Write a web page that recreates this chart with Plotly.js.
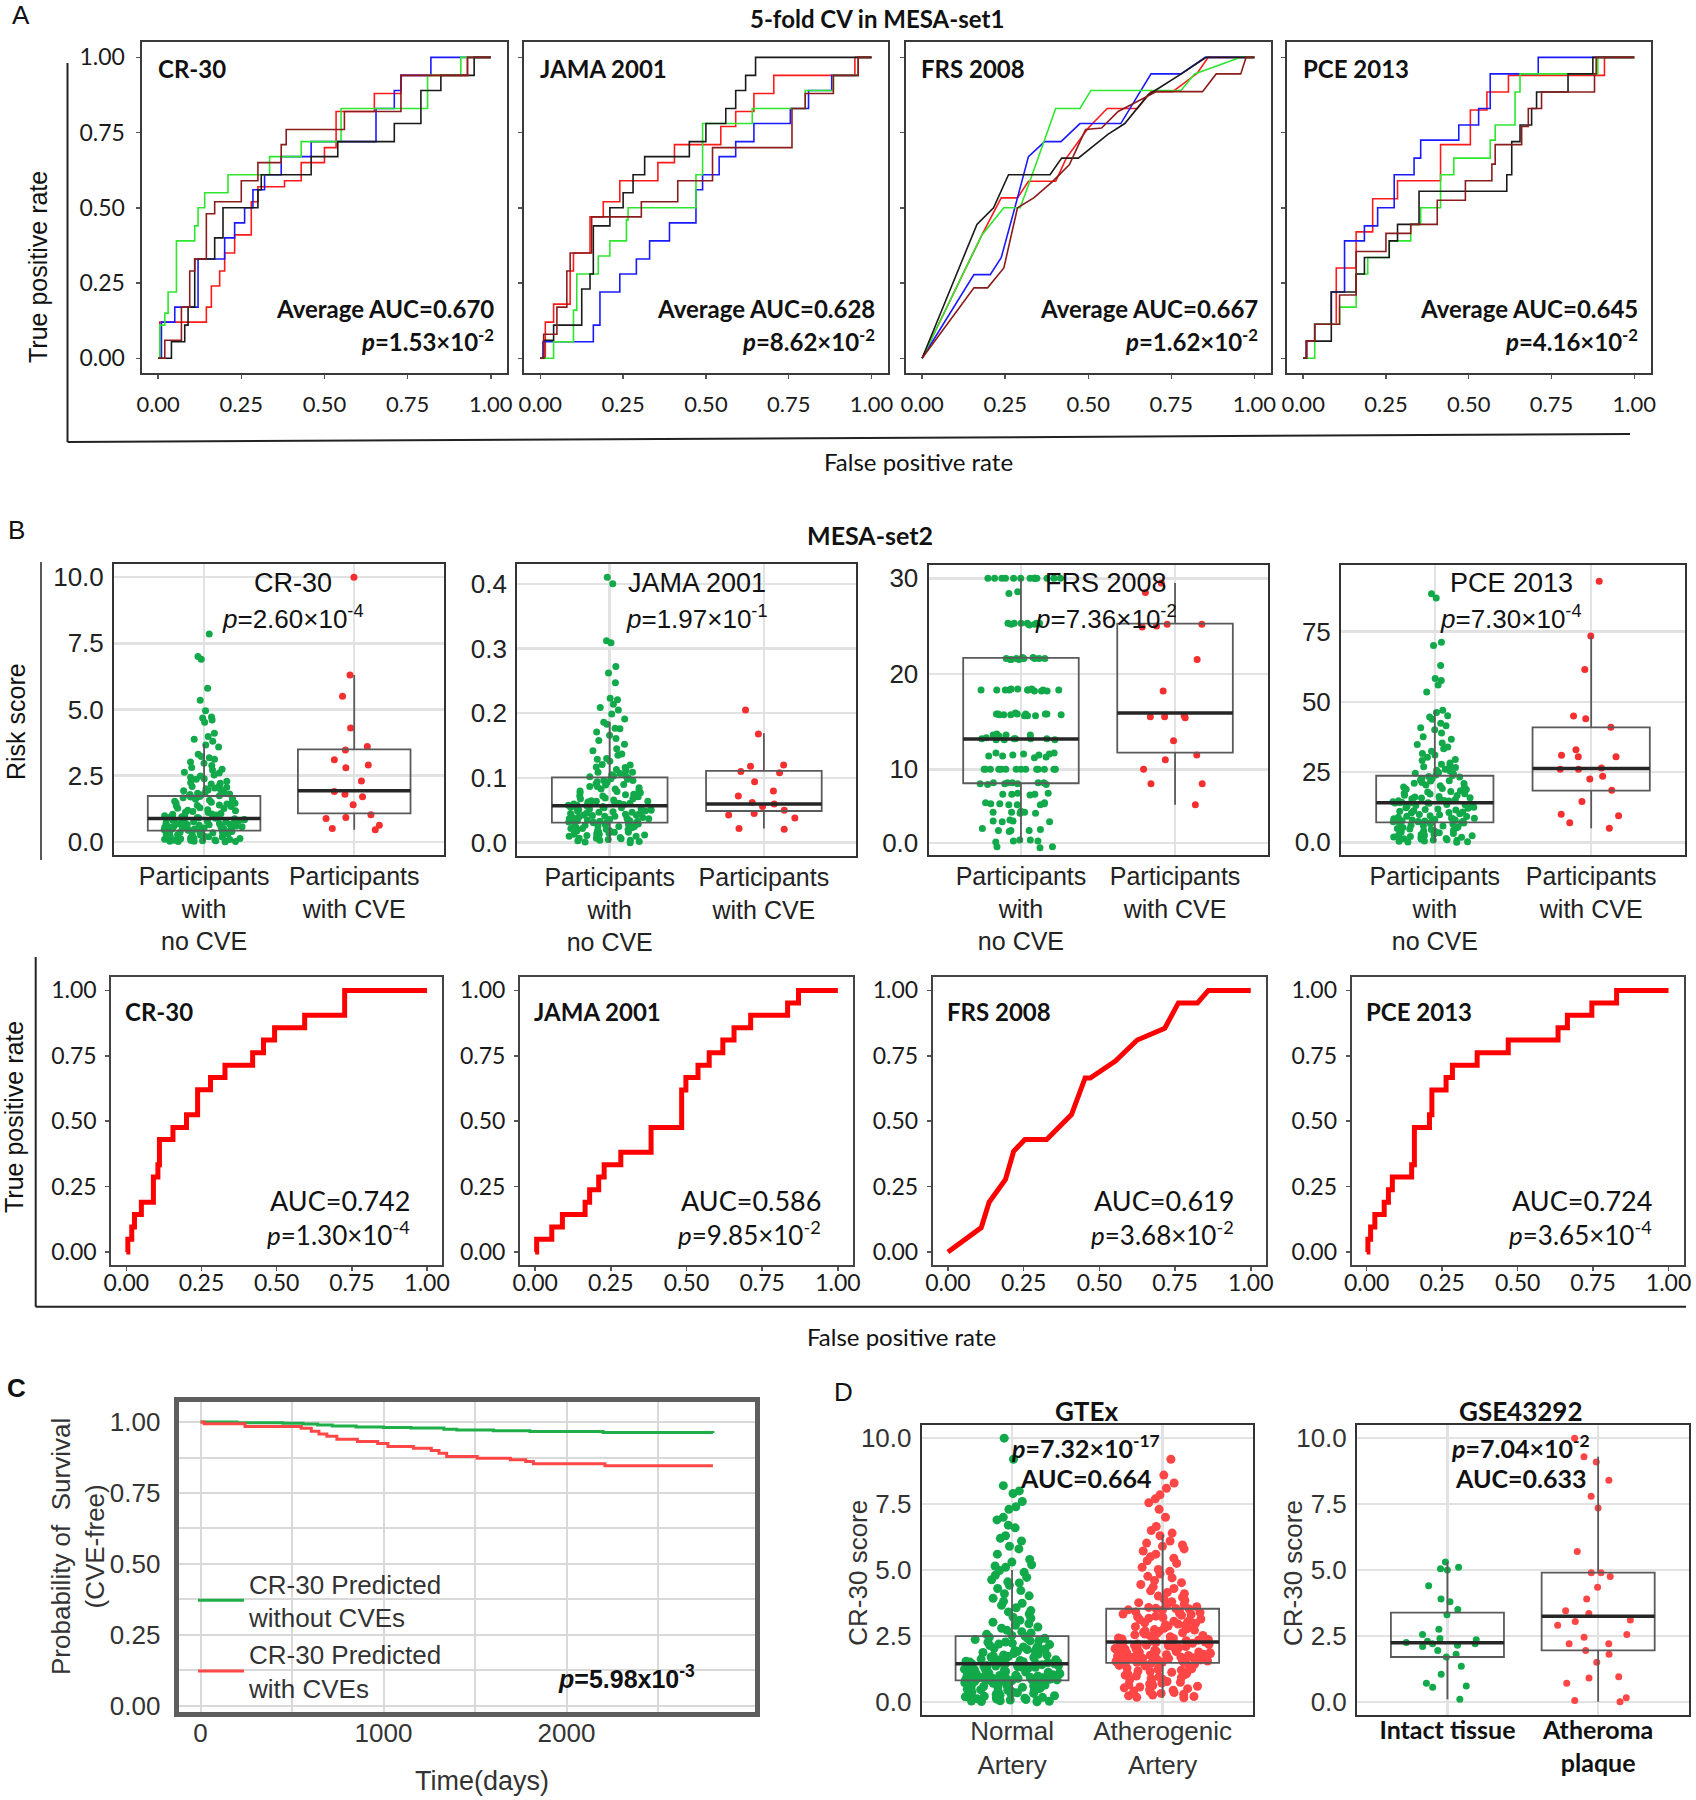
<!DOCTYPE html>
<html><head><meta charset="utf-8">
<script src="https://cdn.plot.ly/plotly-3.0.1.min.js"></script>
<style>body{margin:0;background:#fff}#chart{width:1696px;height:1800px}</style>
</head><body><div id="chart"></div>
<script>
// ================= DATA =================
const models = ['CR-30', 'JAMA 2001', 'FRS 2008', 'PCE 2013'];
// Panel A: 5-fold CV in MESA-set1
const cvAUC = ['0.670', '0.628', '0.667', '0.645'];
const cvPMant = ['1.53', '8.62', '1.62', '4.16'];
const cvPExp = ['-2', '-2', '-2', '-2'];
// ROC folds, [fpr, tpr]
const cr30Red = [[0,0],[0.005,0.12],[0.145,0.17],[0.16,0.24],[0.185,0.29],[0.2,0.35],[0.23,0.41],[0.28,0.52],[0.3,0.57],[0.38,0.59],[0.43,0.65],[0.5,0.7],[0.535,0.82],[0.65,0.88],[0.73,0.94],[0.93,1],[1,1]];
const cr30Blue = [[0,0],[0.01,0.12],[0.05,0.17],[0.12,0.33],[0.2,0.4],[0.23,0.45],[0.26,0.5],[0.285,0.56],[0.32,0.61],[0.37,0.67],[0.46,0.72],[0.655,0.83],[0.71,0.89],[0.73,0.94],[0.82,1],[1,1]];
const cr30Green = [[0,0],[0.005,0.11],[0.02,0.15],[0.03,0.22],[0.055,0.39],[0.11,0.44],[0.12,0.5],[0.14,0.55],[0.21,0.61],[0.335,0.67],[0.43,0.72],[0.55,0.83],[0.81,0.94],[0.91,1],[1,1]];
const cr30Black = [[0,0],[0.01,0],[0.04,0.055],[0.08,0.11],[0.09,0.17],[0.11,0.33],[0.17,0.4],[0.195,0.5],[0.3,0.56],[0.31,0.61],[0.46,0.67],[0.54,0.72],[0.71,0.78],[0.79,0.89],[0.85,0.94],[0.95,1],[1,1]];
const cr30DarkRed = [[0,0],[0.02,0.06],[0.07,0.17],[0.095,0.29],[0.11,0.33],[0.145,0.48],[0.17,0.52],[0.25,0.59],[0.3,0.65],[0.37,0.71],[0.385,0.76],[0.56,0.82],[0.73,0.94],[0.93,1],[1,1]];
const jamaRed = [[0,0],[0.015,0.12],[0.04,0.18],[0.09,0.29],[0.1,0.35],[0.15,0.47],[0.19,0.52],[0.24,0.59],[0.355,0.65],[0.405,0.71],[0.545,0.77],[0.59,0.82],[0.645,0.88],[0.705,0.94],[0.95,1],[1,1]];
const jamaBlue = [[0,0],[0.008,0.055],[0.16,0.11],[0.18,0.22],[0.24,0.28],[0.29,0.33],[0.33,0.39],[0.39,0.45],[0.47,0.56],[0.49,0.61],[0.54,0.67],[0.59,0.72],[0.645,0.78],[0.755,0.83],[0.81,0.89],[0.88,0.94],[0.96,1],[1,1]];
const jamaGreen = [[0,0],[0.02,0],[0.04,0.055],[0.1,0.16],[0.11,0.28],[0.175,0.34],[0.21,0.39],[0.26,0.46],[0.265,0.5],[0.47,0.61],[0.49,0.78],[0.64,0.83],[0.8,0.89],[0.885,0.94],[0.96,1],[1,1]];
const jamaBlack = [[0,0],[0.01,0.06],[0.04,0.11],[0.125,0.23],[0.15,0.28],[0.16,0.44],[0.21,0.5],[0.25,0.55],[0.28,0.61],[0.315,0.67],[0.45,0.72],[0.5,0.78],[0.56,0.83],[0.59,0.89],[0.62,0.94],[0.65,1],[1,1]];
const jamaDarkRed = [[0,0],[0.01,0.08],[0.05,0.17],[0.08,0.29],[0.09,0.35],[0.155,0.47],[0.305,0.52],[0.415,0.59],[0.52,0.7],[0.76,0.83],[0.8,0.88],[0.885,0.94],[0.96,1],[1,1]];
const frsRed = [[0,0],[0.18,0.41],[0.238,0.533],[0.287,0.533],[0.32,0.588],[0.402,0.588],[0.434,0.665],[0.5,0.765],[0.557,0.83],[0.648,0.83],[0.689,0.886],[0.754,0.886],[0.828,0.947],[0.861,1],[1,1]];
const frsBlue = [[0,0],[0.156,0.278],[0.205,0.278],[0.238,0.334],[0.279,0.5],[0.32,0.67],[0.369,0.72],[0.418,0.72],[0.475,0.78],[0.598,0.78],[0.689,0.945],[0.779,0.945],[0.852,1],[1,1]];
const frsGreen = [[0,0],[0.18,0.41],[0.246,0.5],[0.295,0.5],[0.328,0.6],[0.402,0.83],[0.475,0.83],[0.508,0.89],[0.779,0.89],[0.82,0.945],[0.959,1],[1,1]];
const frsBlack = [[0,0],[0.165,0.445],[0.215,0.5],[0.26,0.61],[0.385,0.61],[0.42,0.665],[0.47,0.665],[0.56,0.745],[0.61,0.78],[0.68,0.875],[0.78,0.945],[0.855,1],[1,1]];
const frsDarkRed = [[0,0],[0.156,0.234],[0.197,0.234],[0.246,0.3],[0.287,0.5],[0.336,0.533],[0.393,0.588],[0.443,0.643],[0.492,0.76],[0.54,0.765],[0.59,0.82],[0.705,0.886],[0.844,0.886],[0.885,0.945],[0.959,0.945],[0.975,1],[1,1]];
const pceRed = [[0,0],[0.01,0.057],[0.035,0.113],[0.1,0.3],[0.16,0.42],[0.21,0.53],[0.285,0.59],[0.415,0.71],[0.505,0.825],[0.555,0.885],[0.62,0.94],[0.91,1],[1,1]];
const pceBlue = [[0,0],[0.01,0.057],[0.035,0.113],[0.085,0.22],[0.125,0.39],[0.185,0.44],[0.225,0.5],[0.275,0.61],[0.335,0.665],[0.355,0.725],[0.47,0.775],[0.53,0.83],[0.565,0.945],[0.71,1],[1,1]];
const pceGreen = [[0,0],[0.02,0],[0.035,0.113],[0.11,0.17],[0.16,0.28],[0.195,0.335],[0.26,0.39],[0.325,0.445],[0.355,0.5],[0.415,0.61],[0.455,0.665],[0.565,0.725],[0.58,0.775],[0.64,0.885],[0.655,0.945],[0.89,1],[1,1]];
const pceBlack = [[0,0],[0.01,0.057],[0.085,0.22],[0.16,0.28],[0.185,0.335],[0.26,0.39],[0.285,0.445],[0.35,0.555],[0.615,0.61],[0.63,0.72],[0.655,0.775],[0.69,0.83],[0.705,0.885],[0.8,0.945],[0.875,1],[1,1]];
const pceDarkRed = [[0,0],[0.01,0.057],[0.035,0.113],[0.11,0.21],[0.16,0.355],[0.25,0.415],[0.325,0.445],[0.405,0.525],[0.49,0.59],[0.57,0.645],[0.58,0.71],[0.66,0.77],[0.68,0.83],[0.72,0.885],[0.88,0.945],[0.885,1],[1,1]];

// Panel B: MESA-set2 risk scores
const groupLabels = ['Participants<br>with<br>no CVE', 'Participants<br>with CVE'];
const set2BoxPMant = ['2.60', '1.97', '7.36', '7.30'];
const set2BoxPExp = ['-4', '-1', '-2', '-4'];
// box stats: [lower whisker, q1, median, q3, upper whisker]
const cr30BoxNo = [0, 0.42, 0.88, 1.73, 3.7];
const cr30BoxCVE = [0.45, 1.07, 1.93, 3.49, 6.3];
const jamaBoxNo = [0, 0.031, 0.057, 0.101, 0.187];
const jamaBoxCVE = [0.022, 0.049, 0.06, 0.111, 0.169];
const frsBoxNo = [2.4, 8.54, 13.17, 21.67, 30];
const frsBoxCVE = [6.3, 11.74, 15.9, 25.26, 29.5];
const pceBoxNo = [0, 7.1, 14.1, 23.7, 47];
const pceBoxCVE = [5, 18.4, 26.3, 40.9, 73.5];

const cr30NoCVE = [7.85,7.0,6.9,5.8,5.35,4.95,4.72,4.68,4.6,4.52,4.1,3.98,3.88,3.8,
3.66,3.58,3.31,3.22,3.18,3.12,3.02,2.97,2.88,2.81,2.74,2.71,2.63,2.6,2.52,2.49,
2.44,2.38,2.36,2.29,2.24,2.21,2.18,2.12,2.09,2.06,2.03,2.0,1.97,
1.96,1.93,1.9,1.87,1.86,1.83,1.81,1.79,1.77,1.75,1.74,
1.71,1.69,1.66,1.63,1.61,1.57,1.56,1.53,1.49,1.47,1.46,1.43,1.39,1.37,1.36,1.33,1.29,1.27,1.26,1.21,1.19,1.17,1.14,1.12,1.11,1.07,1.05,1.04,1.01,0.99,0.98,0.96,0.95,0.93,0.92,0.91,0.9,0.89,
0.87,0.86,0.84,0.83,0.83,0.81,0.79,0.78,0.76,0.75,0.74,0.71,0.7,0.69,0.68,0.66,0.65,0.64,0.62,0.61,0.6,0.58,0.57,0.57,0.55,0.54,0.52,0.51,0.5,0.49,0.48,0.47,0.46,0.45,0.44,0.43,0.42,
0.41,0.39,0.38,0.38,0.36,0.35,0.34,0.32,0.31,0.3,0.29,0.27,0.26,0.25,0.24,0.22,0.21,0.2,0.19,0.18,0.16,0.15,0.14,0.13,0.12,0.11,0.1,0.09,0.08,0.07,0.06,0.05,0.04,0.04,0.03,0.02,0.02,0.01,0.01,0.0];
const cr30CVE = [10.0,6.3,5.5,4.3,3.6,3.47,3.1,2.9,2.8,2.3,1.9,1.8,1.7,1.4,1.02,0.92,0.88,0.62,0.5,0.45];
const jamaNoCVE = [0.41,0.40,0.312,0.309,0.272,0.262,0.247,0.223,0.221,0.214,0.209,0.205,0.199,0.191,
0.186,0.183,0.177,0.176,0.171,0.166,0.161,0.158,0.152,0.145,0.142,0.137,0.135,0.13,0.129,0.126,0.121,0.12,0.117,0.116,0.113,0.112,0.109,0.109,0.107,0.105,0.104,0.103,0.102,
0.1,0.099,0.098,0.096,0.096,0.094,0.093,0.091,0.09,0.089,0.087,0.087,0.085,0.083,0.083,0.081,0.08,0.079,0.077,0.077,0.075,0.074,0.072,0.072,0.071,0.069,0.068,0.068,0.066,0.065,0.064,0.064,0.063,0.062,0.061,0.061,0.06,0.059,0.059,0.058,0.058,0.057,
0.056,0.056,0.055,0.054,0.054,0.053,0.052,0.052,0.051,0.05,0.049,0.049,0.048,0.047,0.047,0.046,0.045,0.045,0.044,0.043,0.043,0.042,0.041,0.041,0.04,0.039,0.039,0.038,0.037,0.037,0.036,0.036,0.035,0.034,0.034,0.033,0.033,0.032,0.032,0.031,0.031,
0.03,0.03,0.029,0.028,0.028,0.027,0.026,0.025,0.025,0.024,0.023,0.022,0.022,0.021,0.02,0.019,0.019,0.018,0.017,0.016,0.016,0.015,0.014,0.013,0.013,0.012,0.011,0.01,0.01,0.009,0.008,0.007,0.007,0.006,0.005,0.004,0.004,0.003,0.002,0.001,0.0];
const jamaCVE = [0.205,0.168,0.12,0.118,0.11,0.108,0.094,0.08,0.072,0.062,0.06,0.056,0.05,0.045,0.043,0.038,0.022,0.021];
const frsNoCVE = [30,30,30,30,30,30,30,30,30,30,30,30,30,30,28.6,28.4,
25.3,25.3,25.2,25.3,25.1,25.3,25.2,25.3,25.2,25.3,
21.6,21.6,21.5,21.6,21.7,21.6,21.5,21.6,21.6,21.7,21.6,21.5,
18.3,18.4,18.3,18.2,18.3,18.4,18.3,18.3,18.2,18.3,18.4,18.3,18.3,18.2,
15.8,15.7,15.8,15.6,15.8,15.7,15.9,15.8,15.7,15.6,15.8,15.7,15.8,15.6,
13.6,13.7,13.5,13.6,13.6,
13.2,13.1,13.2,13.3,13.2,13.1,13.2,13.2,13.3,13.1,
11.7,11.5,11.6,11.2,11.4,11.7,11.5,11.3,11.6,11.4,
10,10,10,10,10,10,10,10,10,10,10,10,10,10,
8.6,8.5,8.6,8.4,8.6,8.5,8.6,8.4,8.5,8.6,
7.4,7.5,7.3,7.4,7.5,7.4,
6.4,6.3,6.5,6.4,6.3,6.4,6.5,6.3,
5.5,5.4,5.6,5.5,5.4,5.5,
4.6,4.5,4.7,4.6,4.5,
3.6,3.7,3.5,3.6,3.8,3.6,
2.6,2.5,2.4,2.5,2.6,
1.9,1.8,1.9];
const frsCVE = [29.5,28.5,25.2,25.2,25.0,24.9,21.5,18.2,15.6,15.5,15.5,15.4,13.0,11.5,11.0,10.0,8.5,8.5,6.3];
const pceNoCVE = [88.5,87,71.2,70.1,63,58.3,57.6,56,53.5,
47,46.2,45.1,44.6,43.8,42.4,41.5,40.8,40.1,38.9,37.6,36.7,35.4,34.8,33.9,33.3,32.4,31.6,31.1,30.3,29.5,29.1,28.2,27.8,27.5,26.9,26.6,26.0,25.7,25.4,24.9,24.6,24.3,24.0,23.8,
23.4,23.3,22.8,22.7,22.2,21.9,21.8,21.3,21.0,20.9,20.4,20.1,19.8,19.7,19.2,18.9,18.8,18.4,18.1,17.9,17.5,17.3,17.2,16.8,16.7,16.3,16.1,15.9,15.8,15.5,15.3,15.2,14.9,14.8,14.7,14.5,14.4,14.3,14.2,14.2,14.1,
14.0,13.9,13.5,13.4,13.1,12.9,12.8,12.5,12.3,12.1,11.9,11.7,11.5,11.2,11.1,10.8,10.6,10.5,10.2,9.9,9.8,9.5,9.3,9.2,8.9,8.7,8.6,8.4,8.3,8.1,7.9,7.9,7.7,7.6,7.5,7.4,7.3,7.3,7.2,7.1,
7.0,6.9,6.6,6.5,6.1,5.9,5.8,5.5,5.3,5.2,4.9,4.7,4.6,4.3,4.1,4.0,3.7,3.5,3.4,3.1,2.9,2.8,2.6,2.4,2.3,2.1,1.9,1.8,1.6,1.4,1.3,1.1,0.9,0.8,0.7,0.5,0.4,0.2,0.1,0.0];
const pceCVE = [93,73.5,61.5,45,44,41,33,31,30.5,30.5,26.5,26,26,23.5,22.5,18.5,14.5,10,9.5,7,5];

// Panel B (bottom): ROC in MESA-set2
const set2RocAUC = ['0.742', '0.586', '0.619', '0.724'];
const set2RocPMant = ['1.30', '9.85', '3.68', '3.65'];
const set2RocPExp = ['-4', '-2', '-2', '-4'];
const cr30Set2 = [[0,0],[0.005,0.048],[0.018,0.095],[0.027,0.143],[0.05,0.19],[0.09,0.286],[0.105,0.333],[0.11,0.43],[0.155,0.476],[0.2,0.524],[0.237,0.62],[0.28,0.667],[0.328,0.714],[0.42,0.762],[0.456,0.81],[0.493,0.857],[0.593,0.905],[0.726,1],[1,1]];
const jamaSet2 = [[0,0],[0.005,0.048],[0.055,0.095],[0.09,0.143],[0.165,0.19],[0.18,0.238],[0.21,0.286],[0.228,0.333],[0.283,0.381],[0.383,0.476],[0.484,0.619],[0.498,0.667],[0.538,0.714],[0.575,0.762],[0.62,0.81],[0.657,0.857],[0.712,0.905],[0.834,0.952],[0.87,1],[1,1]];
const frsSet2 = [[0,0],[0.11,0.093],[0.136,0.19],[0.19,0.277],[0.217,0.385],[0.254,0.43],[0.326,0.43],[0.408,0.525],[0.453,0.665],[0.47,0.665],[0.553,0.73],[0.625,0.81],[0.716,0.855],[0.761,0.952],[0.824,0.952],[0.86,1],[1,1]];
const pceSet2 = [[0,0],[0.004,0.048],[0.013,0.095],[0.027,0.143],[0.058,0.19],[0.072,0.238],[0.085,0.286],[0.149,0.333],[0.158,0.476],[0.208,0.524],[0.216,0.619],[0.263,0.667],[0.284,0.714],[0.366,0.762],[0.469,0.81],[0.634,0.857],[0.665,0.905],[0.746,0.952],[0.828,1],[1,1]];

// Panel C: Kaplan-Meier
const survDaysNoCVE = [0,200,450,560,640,720,850,1000,1150,1330,1400,1600,1800,2200,2800];
const survProbNoCVE = [1.0,0.998,0.996,0.993,0.99,0.986,0.983,0.981,0.979,0.975,0.972,0.970,0.967,0.963,0.962];
const survDaysCVE = [0,20,243,550,605,647,690,745,857,968,1024,1163,1261,1303,1345,1512,1693,1777,1819,2210,2800];
const survProbCVE = [1.0,0.994,0.985,0.978,0.968,0.958,0.95,0.94,0.932,0.925,0.914,0.908,0.9,0.89,0.879,0.873,0.867,0.861,0.853,0.846,0.846];
const survNames = ['CR-30 Predicted<br>without CVEs', 'CR-30 Predicted<br>with CVEs'];
const survP = ['5.98', '-3'];

// Panel D
const gtexLabels = ['Normal<br>Artery', 'Atherogenic<br>Artery'];
const gseLabels = ['Intact tissue', 'Atheroma<br>plaque'];
const gtexBoxNormal = [0, 0.81, 1.44, 2.49, 5.0];
const gtexBoxAthero = [0.15, 1.48, 2.27, 3.53, 6.35];
const gseBoxIntact = [0.1, 1.70, 2.24, 3.38, 5.3];
const gseBoxAtheroma = [0, 1.95, 3.25, 4.9, 9.3];
const gtexNormal = [10.0,9.2,8.2,8.0,7.9,7.6,7.4,7.3,7.0,6.9,6.7,6.6,6.3,6.2,6.1,5.9,5.8,5.6,5.4,5.3,5.2,5.15,5.1,
4.98,4.91,4.8,4.72,4.63,4.55,4.51,4.42,4.3,4.22,4.1,4.02,3.93,3.81,3.74,3.66,3.57,3.46,3.41,3.33,3.21,3.17,3.09,3.02,2.96,2.9,2.84,2.79,2.71,2.66,2.61,2.56,2.52,
2.48,2.45,2.41,2.4,2.36,2.33,2.31,2.27,2.26,2.22,2.19,2.17,2.13,2.12,2.08,2.04,2.03,1.99,1.98,1.95,1.92,1.91,1.87,1.85,1.83,1.8,1.78,1.77,1.74,1.72,1.7,1.68,1.66,1.64,1.62,1.6,1.59,1.57,1.55,1.54,1.52,1.51,1.49,1.48,1.47,1.46,1.45,1.44,1.44,
1.43,1.41,1.4,1.38,1.37,1.36,1.34,1.33,1.31,1.3,1.28,1.27,1.25,1.24,1.22,1.21,1.19,1.18,1.16,1.15,1.13,1.12,1.1,1.09,1.07,1.06,1.04,1.03,1.01,1.0,0.98,0.97,0.96,0.94,0.93,0.92,0.91,0.9,0.89,0.88,0.87,0.86,0.85,0.84,0.83,0.83,0.82,0.81,0.81,
0.8,0.78,0.77,0.75,0.74,0.72,0.7,0.69,0.67,0.65,0.64,0.62,0.6,0.58,0.57,0.55,0.53,0.51,0.5,0.48,0.46,0.44,0.43,0.41,0.39,0.37,0.35,0.34,0.32,0.3,0.28,0.26,0.25,0.23,0.21,0.19,0.17,0.16,0.14,0.12,0.1,0.09,0.07,0.05,0.04,0.03,0.02,0.01,0.0];
const gtexAthero = [9.2,8.6,8.3,8.1,7.85,7.7,7.55,7.3,7.0,6.65,6.5,6.4,
6.3,6.1,6.02,5.95,5.9,5.8,5.72,5.6,5.5,5.45,5.35,5.25,5.1,5.02,4.95,4.85,4.76,4.7,4.6,4.52,4.45,4.36,4.3,4.21,4.15,4.1,4.01,3.96,3.9,3.85,3.8,3.76,3.7,3.65,3.61,3.58,3.55,3.54,
3.52,3.49,3.47,3.44,3.41,3.39,3.36,3.33,3.31,3.28,3.25,3.22,3.2,3.17,3.14,3.12,3.09,3.06,3.03,3.0,2.98,2.95,2.92,2.9,2.87,2.85,2.82,2.79,2.77,2.74,2.72,2.69,2.67,2.64,2.62,2.59,2.57,2.54,2.52,2.5,2.47,2.45,2.42,2.4,2.38,2.36,2.34,2.32,2.3,2.28,2.27,
2.26,2.24,2.22,2.21,2.19,2.17,2.15,2.14,2.12,2.1,2.09,2.07,2.05,2.04,2.02,2.0,1.99,1.97,1.96,1.94,1.92,1.91,1.89,1.88,1.86,1.85,1.83,1.82,1.8,1.79,1.77,1.76,1.74,1.73,1.71,1.7,1.68,1.67,1.65,1.64,1.62,1.61,1.59,1.58,1.56,1.55,1.53,1.52,1.51,1.5,1.49,1.48,
1.46,1.43,1.41,1.38,1.36,1.33,1.31,1.28,1.25,1.23,1.2,1.17,1.15,1.12,1.09,1.06,1.04,1.01,0.98,0.95,0.92,0.89,0.86,0.83,0.8,0.77,0.74,0.71,0.68,0.65,0.62,0.59,0.56,0.53,0.5,0.47,0.44,0.41,0.38,0.35,0.32,0.29,0.26,0.23,0.2,0.17,0.15];
const gseIntact = [5.3,5.05,5.0,5.1,4.4,3.8,3.9,3.5,3.3,2.75,2.55,2.4,2.35,2.3,2.25,2.2,2.15,2.1,2.2,1.95,1.8,1.7,1.35,1.05,0.7,0.55,0.6,0.1];
const gseAtheroma = [10.0,9.3,9.1,8.4,7.8,7.35,5.7,4.9,4.9,4.75,4.35,3.9,3.45,3.35,3.1,3.05,2.9,2.55,2.45,2.2,2.2,1.95,1.8,1.5,0.9,0.95,0.7,0.15,0.05,0.0];
const gtexStats = ['7.32', '-17', '0.664'];
const gseStats = ['7.04', '-2', '0.633'];

// ================= LAYOUT HELPERS =================
const W = 1696, H = 1800;
const fx = p => p / W, fy = p => 1 - p / H;
const SANS = 'Liberation Sans, Arial, sans-serif';
const CAL = 'Lato, Carlito, sans-serif';
const layout = {
  width: W, height: H, margin: {l:0, r:0, t:0, b:0},
  paper_bgcolor: '#fff', plot_bgcolor: '#fff', boxmode: 'overlay',
  font: {family: SANS, color: '#222'},
  annotations: [], shapes: [], showlegend: true,
  legend: {x: fx(193), y: fy(1560), xanchor: 'left', yanchor: 'top', bgcolor: 'rgba(0,0,0,0)',
    font: {family: SANS, size: 26, color: '#333'}, itemwidth: 46, tracegroupgap: 4, valign: 'middle', traceorder: 'normal'}
};
const data = [];
let axN = 0;
function addAxes(b, xo, yo) {
  axN++;
  const s = axN === 1 ? '' : String(axN);
  layout['xaxis' + s] = Object.assign({domain: [fx(b[0]), fx(b[1])], anchor: 'y' + s}, xo);
  layout['yaxis' + s] = Object.assign({domain: [fy(b[3]), fy(b[2])], anchor: 'x' + s}, yo);
  return {x: 'x' + s, y: 'y' + s};
}
function ann(text, x, y, o) {
  const a = Object.assign({text: text, x: fx(x), y: fy(y), xref: 'paper', yref: 'paper', showarrow: false,
    xanchor: 'center', yanchor: 'middle', font: {family: CAL, size: 24, color: '#111'}}, o || {});
  layout.annotations.push(a);
}
function line(x0, y0, x1, y1, w) {
  layout.shapes.push({type: 'line', xref: 'paper', yref: 'paper', x0: fx(x0), y0: fy(y0), x1: fx(x1), y1: fy(y1), line: {color: '#222', width: w || 2}});
}
const pTxt = (m, e) => '<i>p</i>=' + m + '×10<sup>' + e + '</sup>';

// ================= PANEL A =================
const boxesA = [[141.5,507.4,42.3,373.3],[523.8,888,42.3,373.3],[905.5,1271,42.3,373.3],[1286.6,1650.8,42.3,373.3]];
const foldsA = [[cr30Red,cr30Blue,cr30Green,cr30Black,cr30DarkRed],[jamaRed,jamaBlue,jamaGreen,jamaBlack,jamaDarkRed],
  [frsRed,frsBlue,frsGreen,frsBlack,frsDarkRed],[pceRed,pceBlue,pceGreen,pceBlack,pceDarkRed]];
const foldColors = ['#ff1a1a', '#1a1aff', '#2ee62e', '#1a1a1a', '#8b1c1c'];
boxesA.forEach((b, i) => {
  const common = {range: [-0.05, 1.05], tickvals: [0, 0.25, 0.5, 0.75, 1], tickformat: '.2f', ticks: 'outside', ticklen: 4,
    tickwidth: 1.5, tickcolor: '#555', showline: true, mirror: true, linecolor: '#3a3a3a', linewidth: 2, showgrid: false,
    zeroline: false, tickfont: {family: CAL, size: 22, color: '#1a1a1a'}};
  const ax = addAxes(b, Object.assign({}, common, {ticklabelstandoff: 6}),
    Object.assign({}, common, {showticklabels: i === 0, ticklabelstandoff: 6, tickfont: {family: CAL, size: 23, color: '#1a1a1a'}}));
  foldsA[i].forEach((f, k) => {
    data.push({type: 'scatter', mode: 'lines', x: f.map(p => p[0]), y: f.map(p => p[1]), xaxis: ax.x, yaxis: ax.y,
      line: {color: foldColors[k], width: 1.6, shape: i === 2 ? 'linear' : 'hv'}, showlegend: false, hoverinfo: 'skip'});
  });
  ann('<b>' + models[i] + '</b>', b[0] + 14, 68, {xanchor: 'left'});
  ann('<b>Average AUC=' + cvAUC[i] + '</b>', b[1] - 11, 308, {xanchor: 'right'});
  ann('<b>' + pTxt(cvPMant[i], cvPExp[i]) + '</b>', b[1] - 11, 340, {xanchor: 'right'});
});
ann('A', 21, 15, {font: {family: SANS, size: 26, color: '#111'}});
ann('<b>5-fold CV in MESA-set1</b>', 877, 19, {font: {family: CAL, size: 24, color: '#111'}});
ann('True positive rate', 38, 267, {textangle: -90, font: {family: SANS, size: 25, color: '#111'}});
ann('False positive rate', 918, 461, {font: {family: CAL, size: 24, color: '#111'}});
line(67.5, 63, 67.5, 442);
line(67.5, 442, 1630, 434);

// ================= PANEL B (box plots) =================
const boxesB = [[114,444.3,564,855],[517.2,856.4,564,856],[928.5,1267.5,565,855],[1341,1685,565,855]];
const yB = [
  {range: [-0.5, 10.5], tickvals: [0, 2.5, 5, 7.5, 10], ticktext: ['0.0', '2.5', '5.0', '7.5', '10.0']},
  {range: [-0.0205, 0.4305], tickvals: [0, 0.1, 0.2, 0.3, 0.4], ticktext: ['0.0', '0.1', '0.2', '0.3', '0.4']},
  // the "0.0" label sits where the reference prints it on this axis
  {range: [1.03, 31.39], tickvals: [2.31, 10, 20, 30], ticktext: ['0.0', '10', '20', '30']},
  {range: [-4.52, 98.75], tickvals: [0, 25, 50, 75], ticktext: ['0.0', '25', '50', '75']}
];
const ptsB = [[cr30NoCVE, cr30CVE], [jamaNoCVE, jamaCVE], [frsNoCVE, frsCVE], [pceNoCVE, pceCVE]];
const statsB = [[cr30BoxNo, cr30BoxCVE], [jamaBoxNo, jamaBoxCVE], [frsBoxNo, frsBoxCVE], [pceBoxNo, pceBoxCVE]];
const GREEN = '#12a94a', RED = '#f52f2f';
function gridAx(extra) {
  return Object.assign({showgrid: true, gridcolor: '#e2e2e2', gridwidth: 2.5, zeroline: false, showline: true, mirror: true,
    linecolor: '#333', linewidth: 2, ticks: ''}, extra);
}
function boxGroups(ax, vals, stats, colors, msize, jit) {
  vals.forEach((v, k) => {
    data.push({type: 'box', y: v, x0: k + 1, width: 0.75, boxpoints: 'all', jitter: jit, pointpos: 0,
      marker: {color: colors[k], size: msize}, line: {color: 'rgba(0,0,0,0)', width: 0}, fillcolor: 'rgba(0,0,0,0)',
      xaxis: ax.x, yaxis: ax.y, showlegend: false, hoverinfo: 'skip'});
  });
  stats.forEach((s, k) => {
    data.push({type: 'box', x: [k + 1], lowerfence: [s[0]], q1: [s[1]], median: [s[2]], q3: [s[3]], upperfence: [s[4]],
      width: 0.75, whiskerwidth: 0, boxpoints: false, fillcolor: 'rgba(0,0,0,0)', line: {color: '#5a5a5a', width: 1.8},
      xaxis: ax.x, yaxis: ax.y, showlegend: false, hoverinfo: 'skip'});
    data.push({type: 'scatter', mode: 'lines', x: [k + 1 - 0.375, k + 1 + 0.375], y: [s[2], s[2]],
      line: {color: '#262626', width: 3.5}, xaxis: ax.x, yaxis: ax.y, showlegend: false, hoverinfo: 'skip'});
  });
}
boxesB.forEach((b, i) => {
  const ax = addAxes(b,
    gridAx({type: 'linear', range: [0.4, 2.6], tickvals: [1, 2], ticktext: groupLabels, tickfont: {family: SANS, size: 25, color: '#222'}, ticklabelstandoff: -2}),
    gridAx(Object.assign({tickfont: {family: SANS, size: 26, color: '#222'}, ticklabelstandoff: 3}, yB[i])));
  boxGroups(ax, ptsB[i], statsB[i], [GREEN, RED], 7, 0.72);
  const cx = (b[0] + b[1]) / 2 + [14, 10, 8, -2][i];
  ann(models[i], cx, 583, {font: {family: SANS, size: 27, color: '#111'}});
  ann(pTxt(set2BoxPMant[i], set2BoxPExp[i]), cx, 617, {font: {family: SANS, size: 26, color: '#111'}});
});
ann('B', 16, 530, {font: {family: SANS, size: 26, color: '#111'}});
ann('<b>MESA-set2</b>', 870, 535, {font: {family: CAL, size: 25, color: '#111'}});
ann('Risk score', 16, 722, {textangle: -90, font: {family: SANS, size: 25, color: '#111'}});
line(41, 562, 41, 860, 1.5);

// ================= PANEL B (ROC) =================
const boxesR = [[111.3,442.1,977.3,1265],[520,853,977.3,1265],[932.8,1265.9,977.3,1265],[1351.6,1683.6,977.3,1265]];
const rocSet2 = [cr30Set2, jamaSet2, frsSet2, pceSet2];
boxesR.forEach((b, i) => {
  const common = {range: [-0.05, 1.05], tickvals: [0, 0.25, 0.5, 0.75, 1], tickformat: '.2f', ticks: 'outside', ticklen: 4,
    tickwidth: 1.5, tickcolor: '#555', showline: true, mirror: true, linecolor: '#444', linewidth: 2, showgrid: false,
    zeroline: false, tickfont: {family: CAL, size: 23, color: '#1a1a1a'}};
  const ax = addAxes(b, Object.assign({}, common, {ticklabelstandoff: -8}), Object.assign({}, common, {ticklabelstandoff: 4}));
  data.push({type: 'scatter', mode: 'lines', x: rocSet2[i].map(p => p[0]), y: rocSet2[i].map(p => p[1]), xaxis: ax.x, yaxis: ax.y,
    line: {color: '#ff0000', width: 5, shape: i === 2 ? 'linear' : 'hv'}, showlegend: false, hoverinfo: 'skip'});
  ann('<b>' + models[i] + '</b>', b[0] + 12, 1011, {xanchor: 'left', font: {family: CAL, size: 24, color: '#111'}});
  ann('AUC=' + set2RocAUC[i], b[1] - 30, 1200, {xanchor: 'right', font: {family: CAL, size: 27, color: '#111'}});
  ann(pTxt(set2RocPMant[i], set2RocPExp[i]), b[1] - 30, 1233, {xanchor: 'right', font: {family: CAL, size: 26, color: '#111'}});
});
ann('True positive rate', 14, 1117, {textangle: -90, font: {family: SANS, size: 25, color: '#111'}});
ann('False positive rate', 901, 1336, {font: {family: CAL, size: 24, color: '#111'}});
line(35.7, 957, 35.7, 1306.7, 2);
line(35.7, 1306.7, 1686, 1306.7, 2);

// ================= PANEL C =================
{
  const ax = addAxes([178.6, 755, 1401.7, 1712],
    {type: 'linear', range: [-120, 3030], tickvals: [0, 1000, 2000], ticktext: ['0', '1000', '2000'], showgrid: true, gridcolor: '#d9d9d9', gridwidth: 2,
      minor: {tickvals: [500, 1500, 2500], showgrid: true, gridcolor: '#d9d9d9', gridwidth: 2},
      zeroline: false, showline: true, mirror: true, linecolor: '#5e5e5e', linewidth: 5, ticks: '',
      tickfont: {family: SANS, size: 26, color: '#333'}, ticklabelstandoff: -6},
    {range: [-0.022, 1.072], tickvals: [0, 0.25, 0.5, 0.75, 1], tickformat: '.2f', showgrid: true, gridcolor: '#d9d9d9', gridwidth: 2,
      minor: {tickvals: [0.125, 0.375, 0.625, 0.875], showgrid: true, gridcolor: '#d9d9d9', gridwidth: 2},
      zeroline: false, showline: true, mirror: true, linecolor: '#5e5e5e', linewidth: 5, ticks: '',
      tickfont: {family: SANS, size: 26, color: '#333'}, ticklabelstandoff: 8});
  data.push({type: 'scatter', mode: 'lines', name: survNames[0], legendgroup: 'a', x: survDaysNoCVE, y: survProbNoCVE,
    line: {color: '#1fae48', width: 3, shape: 'hv'}, xaxis: ax.x, yaxis: ax.y, hoverinfo: 'skip'});
  data.push({type: 'scatter', mode: 'lines', name: survNames[1], legendgroup: 'b', x: survDaysCVE, y: survProbCVE,
    line: {color: '#ff4747', width: 3, shape: 'hv'}, xaxis: ax.x, yaxis: ax.y, hoverinfo: 'skip'});
  ann('<b>' + '<i>p</i>=' + survP[0] + 'x10<sup>' + survP[1] + '</sup></b>', 697, 1677, {xanchor: 'right', font: {family: SANS, size: 25, color: '#111'}});
  ann('Probability of\u00a0\u00a0Survival<br>(CVE-free)', 78, 1547, {textangle: -90, font: {family: SANS, size: 26, color: '#333'}});
  ann('Time(days)', 482, 1781, {font: {family: SANS, size: 27, color: '#333'}});
  ann('<b>C</b>', 16, 1388, {font: {family: SANS, size: 26, color: '#111'}});
}

// ================= PANEL D =================
const boxesD = [[921.7, 1253, 1425, 1715], [1357, 1688.6, 1425, 1715]];
const ptsD = [[gtexNormal, gtexAthero], [gseIntact, gseAtheroma]];
const statsD = [[gtexBoxNormal, gtexBoxAthero], [gseBoxIntact, gseBoxAtheroma]];
const labD = [gtexLabels, gseLabels];
const titleD = ['GTEx', 'GSE43292'];
const txtD = [gtexStats, gseStats];
boxesD.forEach((b, i) => {
  const ax = addAxes(b,
    gridAx({type: 'linear', range: [0.4, 2.6], tickvals: [1, 2], ticktext: labD[i],
      tickfont: i === 0 ? {family: SANS, size: 26, color: '#333'} : {family: CAL, size: 25, color: '#111', weight: 'bold'}, ticklabelstandoff: -8}),
    gridAx({range: [-0.5, 10.5], tickvals: [0, 2.5, 5, 7.5, 10], tickformat: '.1f', tickfont: {family: SANS, size: 26, color: '#333'}, ticklabelstandoff: 3}));
  boxGroups(ax, ptsD[i], statsD[i], [GREEN, '#ff4646'], i === 0 ? 9 : 7, i === 0 ? 0.85 : 0.8);
  const cx = (b[0] + b[1]) / 2;
  ann('<b>' + titleD[i] + '</b>', cx - (i === 0 ? 1 : 2), 1411, {font: {family: CAL, size: 26, color: '#111'}});
  ann('<b>' + pTxt(txtD[i][0], txtD[i][1]) + '</b>', cx - 2, 1446, {font: {family: CAL, size: 25, color: '#111'}});
  ann('<b>AUC=' + txtD[i][2] + '</b>', cx - 2, 1478, {font: {family: CAL, size: 25, color: '#111'}});
  ann('CR-30 score', b[0] - 64, 1573, {textangle: -90, font: {family: SANS, size: 26, color: '#333'}});
});
ann('D', 843, 1392, {font: {family: SANS, size: 26, color: '#111'}});

Plotly.newPlot('chart', data, layout, {staticPlot: true});
</script>
</body></html>
